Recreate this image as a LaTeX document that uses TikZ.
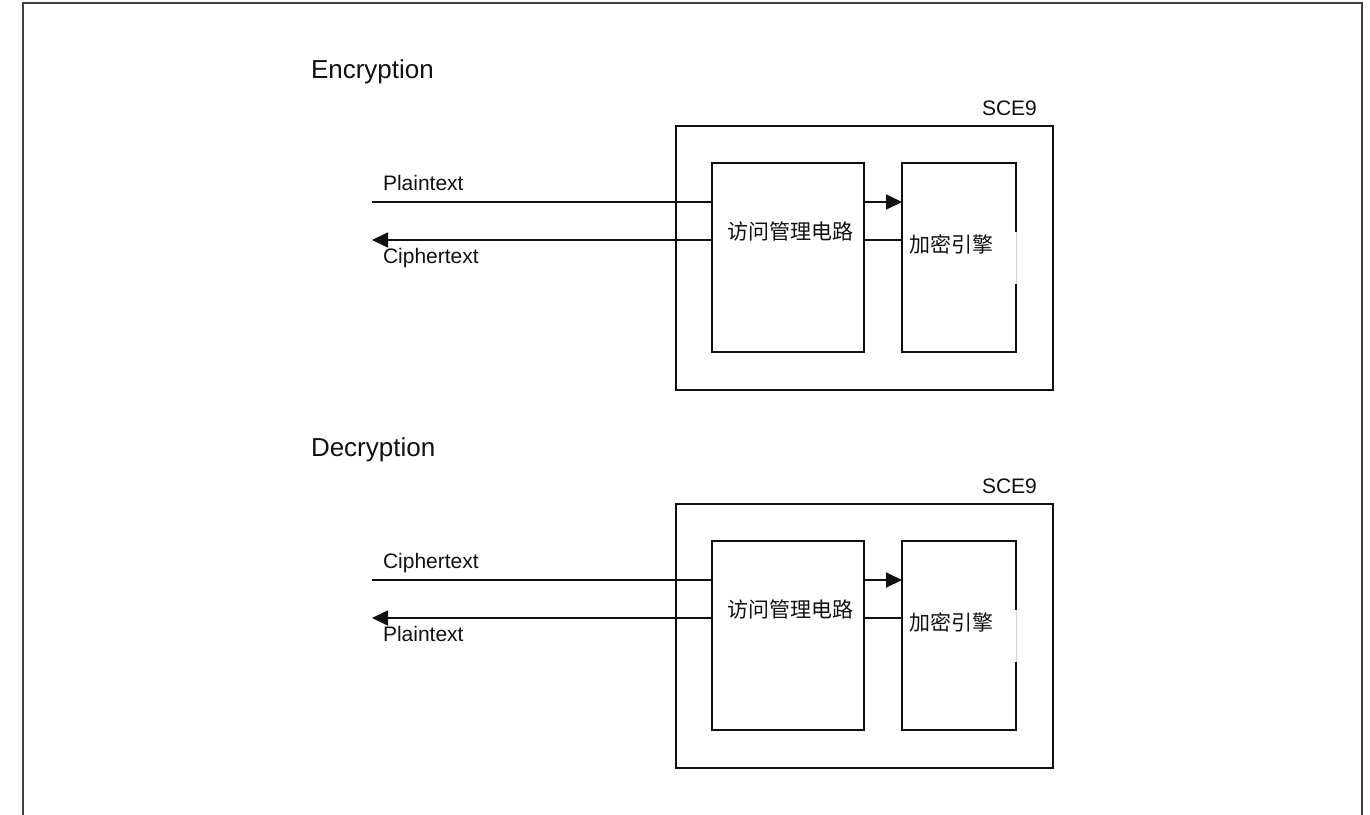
\documentclass[tikz,border=0pt]{standalone}
\usepackage{fontspec}
\setmainfont{Liberation Sans}
\newfontfamily\cjk{Noto Sans CJK SC}
\usepackage{xcolor}
\usetikzlibrary{positioning,arrows.meta}
\definecolor{ink}{HTML}{111111}
\definecolor{framec}{HTML}{404040}
\definecolor{gapc}{HTML}{D6D6D6}

\begin{document}
\begin{tikzpicture}[x=1pt,y=-1pt,
  every node/.style={inner sep=0pt,outer sep=0pt,text=ink,font=\fontsize{21}{25}\selectfont},
  blk/.style={draw=ink,line width=1.6pt},
  wire/.style={draw=ink,line width=1.8pt},
  tip/.style={-{Triangle[length=16pt,width=15pt]}},
  ttl/.style={font=\fontsize{26}{30}\selectfont}]
  \useasboundingbox (0,0) rectangle (1370,814);
  \draw[framec,line width=2pt] (23,820) -- (23,3) -- (1362,3) -- (1362,820);
  \foreach \k/\dy/\title/\txin/\txout in {1/0/Encryption/Plaintext/Ciphertext,2/378/Decryption/Ciphertext/Plaintext}{
    \node[ttl,anchor=base west] (ttl\k) at (311,78+\dy) {\title};
    \node[blk,minimum width=377pt,minimum height=264pt] (sce\k) at (864.5,258+\dy) {};
    \node[anchor=base west] (scelbl\k) at (982,115+\dy) {SCE9};
    \node[blk,minimum width=152pt,minimum height=189pt] (acc\k) at (788,257.5+\dy) {};
    \node[blk,minimum width=114pt,minimum height=189pt] (eng\k) at (959,257.5+\dy) {};
    \draw[white,line width=3pt] ([yshift=26pt]eng\k.east) -- ([yshift=-26pt]eng\k.east);
    \draw[gapc,line width=0.8pt] ([yshift=26pt]eng\k.east) -- ([yshift=-26pt]eng\k.east);
    \node[anchor=base] (acctx\k) at (790,239+\dy) {\cjk 访问管理电路};
    \node[anchor=base west] (engtx\k) at (909,252+\dy) {\cjk 加密引擎};
    % wires in and out
    \coordinate (in\k) at (372,202+\dy);
    \coordinate (out\k) at (372,240+\dy);
    \draw[wire] (in\k) -- (in\k -| acc\k.west);
    \draw[wire,tip] (out\k -| acc\k.west) -- (out\k);
    \draw[wire,tip] (in\k -| acc\k.east) -- (in\k -| eng\k.west);
    \draw[wire] (out\k -| acc\k.east) -- (out\k -| eng\k.west);
    \node[anchor=base west] (lin\k) at (383,190+\dy) {\txin};
    \node[anchor=base west] (lout\k) at (383,263+\dy) {\txout};
  }
\end{tikzpicture}
\end{document}
